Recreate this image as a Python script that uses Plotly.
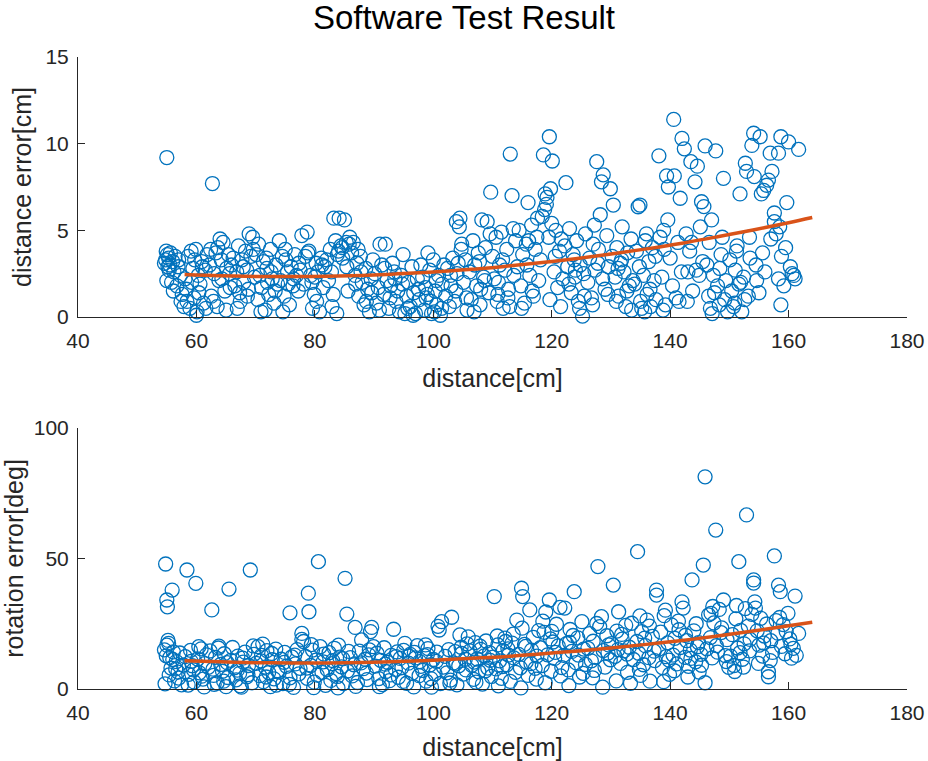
import plotly.graph_objects as go

# ---------------- Top panel: distance error ----------------
dist_x = [
    54.6,54.8,55.0,55.1,55.2,55.3,55.5,55.6,55.8,56.0,56.2,56.4,56.7,57.0,57.3,57.6,57.9,55.0,54.9,55.4,56.1,56.9,57.4,
    58.1,58.3,58.6,58.9,59.1,59.4,59.6,59.9,60.0,60.1,60.3,60.6,60.9,61.2,61.5,61.8,58.4,59.2,60.4,61.0,61.6,59.7,
    62.2,62.5,62.7,63.0,63.3,63.5,63.8,64.0,64.2,64.5,64.8,65.1,65.4,65.7,65.9,62.9,63.6,64.3,65.0,65.6,62.4,
    66.2,66.5,66.8,67.1,67.4,67.7,68.0,68.3,68.6,68.9,69.2,69.5,69.8,66.9,67.9,68.8,69.6,67.3,68.5,
    70.1,70.4,70.7,71.0,71.3,71.6,71.9,72.2,72.5,72.8,73.1,73.4,73.7,70.9,71.8,72.6,73.3,70.5,72.0,
    74.0,74.2,74.5,74.8,75.1,75.4,75.7,76.0,76.3,76.6,76.9,77.2,77.5,77.8,74.6,75.5,76.4,77.3,75.0,
    78.1,78.4,78.7,79.0,79.3,79.6,79.9,80.2,80.5,80.8,81.1,81.4,81.7,78.8,79.5,80.3,81.2,80.0,
    82.0,82.3,82.6,82.9,83.2,83.5,83.8,84.1,84.4,84.7,85.0,85.3,85.6,85.9,82.8,83.7,84.6,85.4,83.1,84.0,85.8,
    86.2,86.5,86.8,87.1,87.4,87.7,88.0,88.3,88.6,88.9,89.2,89.5,89.8,86.9,87.8,88.7,89.6,87.3,
    90.1,90.4,90.7,91.0,91.3,91.6,91.9,92.2,92.5,92.8,93.1,93.4,93.7,90.9,91.8,92.7,93.5,
    94.0,94.3,94.6,94.9,95.2,95.5,95.8,96.1,96.4,96.7,97.0,97.3,97.6,97.9,94.8,95.7,96.6,97.5,
    98.2,98.5,98.8,99.1,99.4,99.7,100.0,100.3,100.6,100.9,101.2,101.5,101.8,98.7,99.6,100.5,101.4,99.0,100.2,
    102.1,102.4,102.7,103.0,103.3,103.6,103.9,104.2,104.5,104.8,105.1,105.4,105.7,102.9,103.8,104.7,105.6,104.0,104.4,
    106.1,106.4,106.7,107.0,107.3,107.6,107.9,108.2,108.5,108.8,109.1,109.4,109.7,106.9,107.8,108.7,109.6,108.0,
    110.0,110.3,110.6,110.9,111.2,111.5,111.8,112.1,112.4,112.7,113.0,113.3,113.6,113.9,110.8,111.7,112.6,113.5,111.0,112.9,
    114.2,114.5,114.8,115.1,115.4,115.7,116.0,116.3,116.6,116.9,117.2,117.5,117.8,114.9,115.8,116.7,117.6,116.1,
    118.1,118.4,118.6,118.9,119.2,119.5,119.6,119.8,120.1,120.4,120.7,121.0,121.3,121.6,121.9,118.8,119.7,120.6,121.5,119.1,120.0,
    122.2,122.4,122.7,123.0,123.3,123.6,123.9,124.2,124.5,124.8,125.2,125.4,125.7,122.9,123.8,124.7,125.5,124.0,
    126.1,126.4,126.7,127.0,127.3,127.6,127.9,128.2,128.4,128.7,129.0,129.3,129.6,129.9,126.9,127.8,128.6,129.5,127.2,
    130.2,130.4,130.7,131.0,131.3,131.6,131.9,132.2,132.5,132.8,133.1,133.4,133.7,130.9,131.8,132.7,133.5,131.2,
    134.0,134.3,134.6,134.9,135.2,135.5,135.8,136.1,136.4,136.7,137.0,137.3,137.6,134.8,135.7,136.6,137.5,136.0,135.0,
    138.1,138.3,138.6,138.9,139.2,139.4,139.7,140.0,140.2,140.6,140.7,141.0,141.3,141.7,141.9,138.8,139.6,140.4,141.5,139.0,
    142.0,142.4,142.7,143.0,143.3,143.5,143.8,144.2,144.6,144.9,145.3,145.7,145.9,142.9,143.6,144.4,145.1,145.5,
    146.2,146.5,146.8,147.0,147.3,147.7,148.0,148.3,148.6,149.0,149.4,149.7,146.6,147.5,148.4,149.2,147.1,148.8,
    150.1,150.4,150.7,151.0,151.3,151.6,151.8,152.1,152.4,152.7,152.9,153.2,153.5,153.8,150.9,151.9,152.6,153.4,151.2,
    154.1,154.2,154.6,155.2,155.4,155.8,156.3,156.6,157.0,157.2,157.6,157.6,157.9,154.5,155.0,156.0,156.9,155.6,
    158.3,158.3,158.7,158.7,158.8,159.2,159.7,160.0,160.3,160.6,161.1,161.7,158.5,159.5,160.9,
]
dist_err = [
    3.1,3.3,9.2,3.6,2.9,3.4,3.0,3.7,2.0,3.2,2.6,3.5,1.8,3.3,2.4,1.3,0.6,2.1,3.8,2.7,1.5,2.9,0.9,
    2.2,1.6,3.5,0.5,3.8,2.8,1.1,3.9,0.1,0.3,2.4,1.9,3.2,0.8,2.7,3.6,0.9,2.0,1.4,2.9,0.5,3.3,
    3.0,1.2,7.7,2.5,3.7,0.6,2.1,4.5,3.3,4.3,1.5,2.8,3.6,1.7,3.0,0.9,4.0,2.2,0.4,2.5,3.9,
    3.4,1.8,2.6,4.1,0.9,3.3,2.0,3.8,1.2,4.8,3.5,4.6,2.3,0.5,2.9,1.6,3.9,1.4,2.7,
    3.6,1.0,2.4,1.7,3.2,0.4,2.8,1.3,3.9,2.2,0.8,3.0,1.9,0.3,3.4,2.6,1.5,4.2,2.0,
    4.4,2.1,3.5,1.2,3.3,2.6,0.7,2.9,1.8,3.6,2.4,1.5,2.7,4.7,0.3,1.9,2.2,3.1,3.9,
    1.9,3.5,4.9,3.8,2.4,0.5,1.3,3.1,2.6,0.3,3.4,1.7,2.9,3.7,2.0,0.9,3.0,2.3,
    3.3,2.1,3.9,0.6,5.7,4.4,3.6,5.7,4.1,3.4,5.6,4.3,1.5,4.6,2.6,0.2,4.0,2.9,1.3,3.8,4.2,
    3.7,4.3,2.4,3.1,1.2,3.5,2.0,0.7,2.8,1.6,0.3,2.2,3.3,1.9,2.6,0.9,1.4,3.9,
    2.5,0.8,1.7,4.2,3.0,1.3,4.2,2.1,0.5,1.8,3.1,2.6,0.9,0.4,2.8,1.1,2.2,
    1.5,0.3,2.4,3.6,0.2,1.2,2.0,0.6,2.9,1.4,0.2,2.2,1.0,3.0,1.9,0.5,0.1,1.6,
    2.3,0.4,1.1,3.7,2.7,0.2,3.3,1.5,0.7,2.4,0.1,1.9,3.0,1.7,0.9,2.1,0.5,1.3,0.3,
    1.2,2.8,0.6,1.8,3.4,0.9,5.5,3.1,5.7,4.2,2.0,3.3,0.4,2.4,1.5,3.9,1.1,2.5,5.2,
    2.6,1.0,4.4,3.0,1.8,3.7,0.7,5.6,2.3,4.0,5.5,1.4,7.2,0.3,3.2,2.1,4.8,1.6,
    3.5,2.2,4.6,1.3,3.0,4.9,0.5,2.7,3.9,1.6,9.4,7.0,2.4,4.4,0.9,3.3,1.1,5.1,2.0,0.6,
    2.9,5.0,1.8,3.6,0.8,4.2,6.6,2.4,5.3,1.2,3.9,4.6,2.1,0.5,3.0,1.5,5.7,4.4,
    3.3,5.8,9.35,7.1,6.9,4.6,10.4,7.4,9.0,2.6,5.0,1.7,3.8,4.5,2.2,6.2,1.0,3.5,0.6,6.5,5.4,
    4.1,7.75,2.9,5.1,1.4,3.6,2.3,4.4,0.9,3.0,0.05,2.5,4.8,1.9,3.3,0.5,1.2,2.7,
    2.0,3.4,1.1,4.2,2.7,8.96,3.9,5.9,7.8,8.2,1.6,4.7,2.9,7.4,0.7,3.1,2.2,1.3,5.3,
    3.5,6.46,2.3,4.0,1.2,3.1,5.2,2.6,0.6,3.7,1.8,4.5,2.1,0.9,3.3,1.5,0.4,2.8,
    1.9,3.8,6.36,6.46,0.5,2.4,4.4,1.3,3.2,0.6,4.0,2.1,1.0,2.9,0.3,1.6,3.5,4.8,0.9,
    9.3,4.6,2.3,5.0,0.7,8.14,7.5,3.4,15.2,11.4,8.14,1.1,4.3,6.85,2.6,0.4,5.6,1.8,0.9,3.9,
    10.3,9.7,4.8,2.6,3.8,8.96,1.5,7.8,8.7,2.4,6.65,6.37,9.87,0.9,4.3,2.7,5.2,3.2,
    3.0,1.2,0.5,5.6,2.4,9.58,1.8,0.7,3.6,8.0,2.1,0.3,4.3,1.4,2.8,1.0,0.2,4.6,
    3.3,1.5,0.6,2.7,4.1,1.9,7.1,0.3,2.3,8.87,8.4,1.2,3.4,9.9,0.8,2.0,1.0,4.6,3.8,
    10.6,8.1,2.1,10.4,7.1,7.3,7.6,7.9,4.5,8.4,6.0,5.5,4.8,3.0,1.4,2.6,9.45,3.7,
    9.45,2.2,10.4,0.7,3.5,1.8,6.6,10.1,2.9,2.5,2.2,9.67,5.2,4.0,2.4,
]

# ---------------- Bottom panel: rotation error ----------------
rot_x = [
    54.6,54.8,55.0,55.1,55.3,55.5,55.7,55.9,56.1,56.3,56.6,56.9,57.2,57.5,57.8,54.7,55.0,55.4,56.0,56.5,57.0,55.2,54.9,
    58.1,58.4,58.7,59.0,59.3,59.6,59.9,60.2,60.5,60.8,61.1,61.4,61.7,58.6,59.5,60.4,61.3,59.1,60.9,
    62.0,62.3,62.6,62.9,63.2,63.5,63.8,64.1,64.4,64.7,65.0,65.3,65.5,65.8,62.8,63.7,64.6,65.2,63.0,
    66.1,66.4,66.7,67.0,67.3,67.6,67.9,68.2,68.5,68.8,69.1,69.4,69.7,66.9,67.8,68.7,69.6,67.4,
    70.1,70.4,70.7,71.0,71.3,71.6,71.9,72.2,72.5,72.8,73.1,73.4,73.7,70.9,71.8,72.7,73.5,71.2,
    74.0,74.3,74.6,74.9,75.2,75.8,75.8,76.1,76.4,76.7,77.0,77.3,77.8,77.8,74.8,75.7,76.6,77.5,
    78.1,78.4,78.7,78.9,79.0,79.3,79.6,79.9,80.2,80.6,80.9,81.2,81.5,81.8,78.6,79.4,80.4,81.4,79.8,
    82.1,82.4,82.7,83.0,83.3,83.6,83.9,84.2,84.5,84.8,85.1,85.4,85.7,82.9,83.8,84.7,85.5,84.0,
    86.0,86.3,86.6,86.8,87.2,87.5,87.9,88.2,88.5,88.8,89.1,89.4,89.6,89.9,86.9,87.8,88.7,89.2,
    90.2,90.5,90.8,91.1,91.4,91.7,92.0,92.3,92.6,92.9,93.3,93.6,93.9,90.9,91.9,92.8,93.7,
    94.1,94.4,94.7,95.0,95.2,95.5,95.8,96.1,96.4,96.7,97.0,97.3,97.6,97.9,94.9,95.9,96.8,97.7,
    98.2,98.5,98.8,99.1,99.4,99.7,100.0,100.3,100.6,101.0,101.4,101.7,98.7,99.6,100.5,101.2,99.0,100.8,
    102.0,102.3,102.6,102.9,103.1,103.4,103.7,104.0,104.3,104.5,104.8,105.1,105.4,105.7,105.9,102.8,103.8,104.7,105.5,
    106.2,106.5,106.8,107.1,107.4,107.7,108.0,108.3,108.6,108.9,109.2,109.5,109.8,106.9,107.9,108.8,109.6,107.2,
    110.1,110.3,110.6,110.9,111.2,111.5,111.8,112.1,112.4,112.7,113.0,113.3,113.6,113.9,110.8,111.7,112.6,113.5,111.0,112.2,
    114.1,114.4,114.7,114.9,115.1,115.4,115.7,116.0,116.3,116.6,116.9,117.2,117.5,117.8,114.8,115.6,116.5,117.4,115.0,
    118.1,118.4,118.7,119.0,119.3,119.6,119.9,120.2,120.5,120.8,121.1,121.4,121.7,118.9,119.8,120.6,121.5,118.5,120.0,
    122.0,122.2,122.5,122.8,123.1,123.4,123.8,124.1,124.4,124.7,125.1,125.4,125.7,122.9,123.6,124.5,125.3,123.0,
    126.1,126.4,126.7,127.0,127.3,127.8,128.1,128.4,128.7,129.0,129.3,129.6,129.9,126.9,127.6,128.6,129.5,127.2,
    130.1,130.4,130.7,131.0,131.3,131.6,131.9,132.2,132.5,132.8,133.1,133.5,133.8,130.9,131.8,132.7,133.3,131.2,
    134.5,134.4,134.7,134.9,135.2,135.5,135.8,136.1,136.4,136.6,137.0,137.3,137.7,137.7,134.8,135.7,136.5,137.4,135.0,
    138.1,138.4,138.7,139.0,139.3,139.6,139.9,140.2,140.5,140.8,141.1,141.4,141.7,142.0,138.9,139.8,140.7,141.5,139.2,
    142.2,142.5,142.8,143.1,143.4,143.7,144.0,144.3,144.6,144.9,145.2,145.6,145.9,142.6,143.5,144.4,145.3,145.9,143.0,144.8,
    146.2,146.5,146.8,147.1,147.4,147.7,148.0,148.3,148.6,149.0,149.3,149.6,149.9,146.9,147.8,148.7,149.5,147.2,
    150.2,150.5,150.8,151.1,151.4,151.6,151.9,152.2,152.5,152.9,153.2,153.5,153.8,150.9,151.8,152.7,153.4,151.2,152.4,
    154.1,154.1,154.3,154.4,154.7,155.0,155.3,155.6,155.9,156.3,156.6,156.6,157.0,157.3,157.6,157.9,154.9,155.8,156.9,
    158.3,158.6,158.2,158.8,159.1,159.4,159.9,160.2,160.5,160.8,161.1,161.7,158.5,159.6,160.4,161.3,
]
rot_err = [
    15.0,47.9,34.1,31.5,17.5,12.0,8.0,37.9,14.2,3.1,10.5,6.5,13.8,1.6,9.2,2.0,16.8,5.4,11.3,7.7,4.2,18.6,12.7,
    12.4,45.6,5.6,14.8,8.9,2.7,40.5,11.5,6.2,15.4,3.8,9.7,13.1,1.5,7.3,16.2,0.8,10.6,4.9,
    8.3,14.6,30.3,5.2,12.1,2.3,16.4,9.4,6.8,13.5,0.9,4.4,38.3,11.0,7.6,15.7,3.0,10.1,1.8,
    15.9,8.1,3.5,12.6,6.0,0.7,10.3,14.1,4.7,9.0,45.6,2.4,13.3,7.2,11.8,5.5,16.5,1.2,
    9.8,16.2,5.1,12.9,2.8,8.4,14.7,6.3,0.9,11.2,3.9,15.3,7.0,10.8,4.6,13.6,1.5,17.2,
    6.5,11.4,2.1,14.0,8.7,29.2,4.3,12.3,0.6,9.6,15.1,5.8,21.3,19.0,10.2,1.8,13.0,7.9,
    18.2,12.5,4.1,36.7,29.6,9.0,14.9,2.6,11.1,48.8,16.2,6.4,13.4,1.4,8.0,17.0,5.3,10.4,0.5,
    7.4,13.9,3.3,10.9,15.6,5.9,0.4,12.2,8.5,2.1,42.4,28.7,14.4,9.7,4.8,11.6,6.9,16.8,
    12.0,5.0,9.3,23.6,2.5,14.5,18.8,7.8,11.4,3.6,13.1,22.0,23.6,16.2,1.0,10.0,6.1,15.0,
    8.8,13.7,4.0,11.0,1.7,15.8,6.7,10.2,3.2,12.9,22.9,7.5,14.2,0.9,9.5,5.4,12.4,
    4.5,11.7,8.2,14.8,17.5,2.2,9.9,13.3,6.0,0.8,11.9,16.6,5.1,8.7,2.9,12.6,14.0,10.5,
    7.1,12.8,3.0,15.5,9.2,0.7,11.3,5.8,14.1,22.6,25.8,8.4,16.9,4.0,10.6,2.1,13.2,24.0,
    12.5,6.2,15.1,3.4,27.5,10.0,14.3,1.6,8.9,20.7,13.6,5.7,11.4,17.3,20.0,2.3,9.6,16.0,7.3,
    14.6,9.1,3.7,17.8,11.5,6.6,15.2,1.9,12.7,18.4,8.0,13.9,4.8,10.3,16.4,7.0,11.0,2.6,
    12.2,35.4,7.7,16.9,10.8,4.1,14.7,19.5,9.3,13.0,2.9,17.6,11.9,6.4,20.3,8.6,15.4,21.0,1.2,18.2,
    26.4,13.3,8.1,38.6,35.4,17.1,10.4,5.2,30.3,14.9,19.8,7.9,12.6,22.4,0.4,16.3,9.7,3.8,23.3,
    15.8,9.0,21.7,29.5,13.1,34.1,6.8,18.0,11.7,24.8,16.5,31.3,8.2,2.4,19.2,14.0,5.0,26.0,22.1,
    12.9,31.0,17.4,7.3,22.8,14.4,37.3,10.1,19.6,4.6,25.8,15.3,9.4,1.3,20.5,13.0,6.0,17.9,
    15.6,21.2,10.8,18.3,12.1,46.9,23.9,27.7,14.7,8.4,20.4,16.9,11.2,4.3,25.1,0.7,13.8,7.1,
    17.4,39.8,12.5,22.2,29.6,9.8,19.1,14.6,24.4,6.4,16.0,25.2,11.3,3.1,20.9,13.4,2.2,15.1,
    52.6,18.2,13.7,28.0,22.0,9.3,16.6,26.4,12.0,3.0,20.2,14.5,37.9,36.0,7.5,19.5,24.1,10.9,5.2,
    15.3,21.8,8.2,28.1,12.4,17.7,5.6,24.6,13.0,19.4,9.6,26.0,15.9,33.4,2.8,11.1,7.0,22.7,30.2,
    31.0,12.1,18.5,8.7,14.9,41.8,22.3,10.4,16.2,6.5,13.3,47.5,2.4,20.6,11.7,25.0,9.1,81.3,4.6,17.8,
    15.4,28.4,19.7,11.9,25.3,60.9,14.1,30.5,21.6,34.1,12.8,18.9,8.3,29.0,16.6,23.4,10.5,31.6,
    12.6,20.8,9.0,26.9,15.7,48.8,22.5,11.4,17.3,66.7,24.1,19.0,28.6,6.7,13.9,30.8,14.6,32.0,8.4,
    41.8,40.6,33.4,31.0,22.3,16.8,27.1,12.6,20.3,24.9,6.6,4.7,18.5,14.0,51.0,26.2,9.8,17.6,10.9,
    39.8,37.3,21.4,16.3,24.7,13.5,29.0,19.2,11.8,15.6,35.6,21.3,27.4,22.0,17.1,12.9,
]

# ---------------- Fitted trend curves ----------------
fit_x = [58, 64, 70, 76, 82, 88, 94, 100, 106, 112, 118, 124, 130, 136, 142, 148, 154, 160, 164]
fit_dist = [2.45, 2.38, 2.34, 2.33, 2.35, 2.40, 2.49, 2.60, 2.74, 2.92, 3.13, 3.36, 3.63, 3.93, 4.26, 4.63, 5.02, 5.44, 5.74]
fit_rot = [10.8, 10.4, 10.1, 10.0, 10.0, 10.2, 10.5, 11.0, 11.7, 12.4, 13.4, 14.5, 15.7, 17.1, 18.6, 20.3, 22.2, 24.2, 25.6]

x_ticks = [40, 60, 80, 100, 120, 140, 160, 180]
dist_ticks = [0, 5, 10, 15]
rot_ticks = [0, 50, 100]

BLUE = "#0072BD"
ORANGE = "#D95319"
AX = "#262626"
FONT = "Liberation Sans, Arial, sans-serif"

W, H = 928, 761

fig = go.Figure()
marker = dict(symbol="circle-open", size=14, color=BLUE, line=dict(width=1.3, color=BLUE))

fig.add_trace(go.Scatter(x=dist_x, y=dist_err, mode="markers", marker=marker,
                         xaxis="x", yaxis="y", cliponaxis=False, showlegend=False))
fig.add_trace(go.Scatter(x=fit_x, y=fit_dist, mode="lines", line=dict(color=ORANGE, width=3.5, shape="spline"),
                         xaxis="x", yaxis="y", showlegend=False))
fig.add_trace(go.Scatter(x=rot_x, y=rot_err, mode="markers", marker=marker,
                         xaxis="x2", yaxis="y2", cliponaxis=False, showlegend=False))
fig.add_trace(go.Scatter(x=fit_x, y=fit_rot, mode="lines", line=dict(color=ORANGE, width=3.5, shape="spline"),
                         xaxis="x2", yaxis="y2", showlegend=False))

x0, x1 = 78 / W, 907 / W

def xax(anchor):
    return dict(domain=[x0, x1], range=[40, 180], tickvals=x_ticks, ticks="inside", ticklen=7,
                tickcolor=AX, showline=True, linecolor=AX, linewidth=1, showgrid=False, zeroline=False,
                tickfont=dict(size=21, color=AX, family=FONT), anchor=anchor, automargin=False,
                ticklabelstandoff=5,
                title=dict(text="distance[cm]", font=dict(size=25, color=AX, family=FONT), standoff=18))

def yax(dom, rng, tv, title, anchor):
    return dict(domain=dom, range=rng, tickvals=tv, ticks="inside", ticklen=7, tickcolor=AX,
                showline=True, linecolor=AX, linewidth=1, showgrid=False, zeroline=False,
                tickfont=dict(size=21, color=AX, family=FONT), anchor=anchor, automargin=False,
                ticklabelstandoff=4,
                title=dict(text=title, font=dict(size=25, color=AX, family=FONT), standoff=6))

fig.update_layout(
    width=W, height=H,
    margin=dict(l=0, r=0, t=0, b=0, autoexpand=False),
    paper_bgcolor="white", plot_bgcolor="white",
    title=dict(text="Software Test Result", x=0.5, xanchor="center", y=1 - 17 / H, yanchor="middle",
               yref="container", automargin=False,
               font=dict(size=33, color="#000000", family=FONT)),
    xaxis=xax("y"),
    yaxis=yax([1 - 317 / H, 1 - 57 / H], [0, 15], dist_ticks, "distance error[cm]", "x"),
    xaxis2=xax("y2"),
    yaxis2=yax([1 - 689 / H, 1 - 428 / H], [0, 100], rot_ticks, "rotation error[deg]", "x2"),
)

fig.write_html("out.html", config={"displayModeBar": False},
               post_script="document.body.style.margin='0px';")
